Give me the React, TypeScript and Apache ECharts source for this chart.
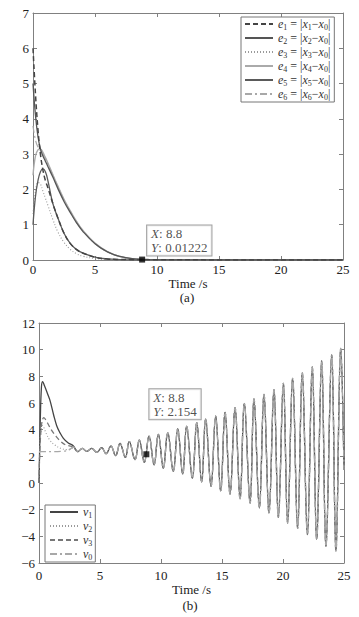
import React, { useEffect, useRef } from "react";
import * as echarts from "echarts";

// ---------- chart (a): errors e1..e6 ----------
const T_A = [0, 0.2, 0.4, 0.6, 0.8, 1, 1.2, 1.6, 2, 2.5, 3, 3.5, 4, 5, 6, 7, 8, 10, 15, 20, 25];
const E1 = [6, 4.7, 3.7, 3.0, 2.55, 2.25, 2.05, 1.6, 1.2, 0.76, 0.47, 0.3, 0.2, 0.08, 0.03, 0.015, 0.01, 0.006, 0.003, 0.001, 0];
const E2 = [5, 4.1, 3.5, 3.15, 2.95, 2.8, 2.65, 2.35, 2.03, 1.66, 1.35, 1.06, 0.82, 0.46, 0.23, 0.1, 0.04, 0.01, 0, 0, 0];
const E3 = [1.3, 1.95, 2.2, 2.15, 1.95, 1.75, 1.55, 1.15, 0.8, 0.5, 0.3, 0.18, 0.11, 0.04, 0.015, 0.005, 0, 0, 0, 0, 0];
const E4 = [2.4, 2.95, 3.12, 3.15, 3.05, 2.9, 2.75, 2.42, 2.1, 1.72, 1.4, 1.1, 0.85, 0.48, 0.24, 0.1, 0.04, 0.01, 0, 0, 0];
const E5 = [1.0, 1.8, 2.25, 2.5, 2.58, 2.5, 2.25, 1.6, 1.2, 0.76, 0.47, 0.3, 0.2, 0.08, 0.03, 0.012, 0.005, 0, 0, 0, 0];
const E6 = [3.8, 3.4, 3.2, 3.1, 3.0, 2.88, 2.72, 2.4, 2.08, 1.7, 1.38, 1.08, 0.84, 0.47, 0.23, 0.1, 0.04, 0.012, 0.003, 0.001, 0];
const TIP_A = [8.8, 0.01222];

// ---------- chart (b): v1, v2, v3, v0 ----------
const V1_T = [0, 0.1, 0.2, 0.3, 0.45, 0.7, 0.9, 1.2, 1.45, 1.7, 2.0, 2.4, 2.8];
const V1_V = [0, 4.5, 7.2, 7.6, 7.3, 6.7, 6.2, 5.1, 4.3, 3.8, 3.35, 3.0, 2.8];
const V2_T = [0, 0.1, 0.3, 0.6, 0.9, 1.3, 1.8, 2.3, 2.8];
const V2_V = [0, 3.3, 4.3, 3.7, 3.2, 2.85, 2.6, 2.5, 2.6];
const V3_T = [0, 0.15, 0.4, 0.7, 1.0, 1.4, 1.8, 2.2, 2.8];
const V3_V = [0, 3.8, 4.9, 4.5, 4.0, 3.5, 3.1, 2.85, 2.7];
const V0_T = [0, 1, 2, 2.5, 2.8];
const V0_V = [2.35, 2.35, 2.38, 2.5, 2.7];
const OSC_T = [3.18, 3.55, 3.91, 4.32, 4.73, 5.14, 5.49, 5.9, 6.28, 6.64, 7.08, 7.4, 7.87, 8.22, 8.63, 9.02, 9.43, 9.78, 10.19, 10.55, 11.01, 11.37, 11.78, 12.1, 12.57, 12.93, 13.33, 13.66, 14.1, 14.48, 14.89, 15.25, 15.66, 16.07, 16.48, 16.83, 17.3, 17.62, 18.06, 18.44, 18.85, 19.26, 19.62, 20.03, 20.38, 20.79, 21.2, 21.58, 22.0, 22.4, 22.76, 23.17, 23.52, 23.99, 24.34, 24.73, 25];
const OSC_V = [2.35, 2.6, 2.37, 2.6, 2.3, 2.65, 2.2, 2.77, 2.05, 2.97, 1.92, 3.1, 1.75, 3.22, 1.55, 3.52, 1.37, 3.65, 1.12, 3.77, 0.87, 4.05, 0.67, 4.27, 0.37, 4.52, 0.07, 4.8, -0.25, 5.02, -0.58, 5.3, -0.83, 5.65, -1.18, 5.97, -1.5, 6.3, -1.87, 6.65, -2.25, 7.0, -2.58, 7.47, -3.0, 7.85, -3.4, 8.27, -3.87, 8.7, -4.25, 9.15, -4.75, 9.6, -5.1, 10.1, 1.0];
const TIP_B = [8.8, 2.154];

const SERIF = "Liberation Serif";

const pairs = (ts: number[], vs: number[]) => ts.map((t, i) => [t, vs[i]]);

const LEG_A: Record<string, string> = {
  e1: "{i|e}{s|1}{t| = |}{i|x}{s|1}{t|\u2212}{i|x}{s|0}{t||}",
  e2: "{i|e}{s|2}{t| = |}{i|x}{s|2}{t|\u2212}{i|x}{s|0}{t||}",
  e3: "{i|e}{s|3}{t| = |}{i|x}{s|3}{t|\u2212}{i|x}{s|0}{t||}",
  e4: "{i|e}{s|4}{t| = |}{i|x}{s|4}{t|\u2212}{i|x}{s|0}{t||}",
  e5: "{i|e}{s|5}{t| = |}{i|x}{s|5}{t|\u2212}{i|x}{s|0}{t||}",
  e6: "{i|e}{s|6}{t| = |}{i|x}{s|6}{t|\u2212}{i|x}{s|0}{t||}",
};
const LEG_B: Record<string, string> = {
  v1: "{i|v}{s|1}",
  v2: "{i|v}{s|2}",
  v3: "{i|v}{s|3}",
  v0: "{i|v}{s|0}",
};

const richLegend = {
  i: { fontFamily: SERIF, fontStyle: "italic", fontSize: 12, color: "#333" },
  t: { fontFamily: SERIF, fontSize: 12, color: "#333" },
  s: { fontFamily: SERIF, fontSize: 8, color: "#333", padding: [6, 0, 0, 0] },
};

export default function App() {
  const ref = useRef<HTMLDivElement>(null);
  useEffect(() => {
    if (!ref.current) return;
    const chart = echarts.init(ref.current, undefined, { renderer: "svg" });
    const axisColor = "#808080";
    const labelStyle = { fontFamily: SERIF, fontSize: 13, color: "#222" };
    const minus = (v: number) => (v < 0 ? "\u2212" + Math.abs(v) : String(v));

    const xBase = (grid: number, top: boolean, margin: number, nameGap: number) => ({
      type: "value",
      gridIndex: grid,
      position: top ? "top" : "bottom",
      min: 0,
      max: 25,
      interval: 5,
      name: top ? "" : "Time /s",
      nameLocation: "middle",
      nameGap,
      nameTextStyle: labelStyle,
      axisLine: { show: true, onZero: false, lineStyle: { color: axisColor, width: 1 } },
      axisTick: { show: true, inside: true, length: 4, lineStyle: { color: axisColor } },
      axisLabel: { show: !top, margin, ...labelStyle },
      splitLine: { show: false },
    });
    const yBase = (grid: number, right: boolean, min: number, max: number, interval: number) => ({
      type: "value",
      gridIndex: grid,
      position: right ? "right" : "left",
      min,
      max,
      interval,
      axisLine: { show: true, onZero: false, lineStyle: { color: axisColor, width: 1 } },
      axisTick: { show: true, inside: true, length: 4, lineStyle: { color: axisColor } },
      axisLabel: { show: !right, margin: 4, formatter: minus, ...labelStyle },
      splitLine: { show: false },
    });

    const line = (name: string, x: number, data: number[][], color: string, type: any, width = 1.3) => ({
      name,
      type: "line",
      xAxisIndex: x,
      yAxisIndex: x,
      data,
      symbol: "none",
      smooth: 0.4,
      lineStyle: { color, type, width },
      itemStyle: { color },
      z: 3,
    });

    const tip = (x: number, v: number[], pos: number[]) => ({
      type: "scatter",
      xAxisIndex: x,
      yAxisIndex: x,
      data: [v],
      symbol: "rect",
      symbolSize: 6,
      itemStyle: { color: "#000" },
      z: 10,
      label: {
        show: true,
        position: pos,
        formatter: (p: any) => `{i|X}{t|: ${p.value[0]}}\n{i|Y}{t|: ${p.value[1]}}`,
        backgroundColor: "#fff",
        borderColor: "#888",
        borderWidth: 1,
        padding: [1, 4, 1, 4],
        lineHeight: 14,
        fontFamily: SERIF,
        fontSize: 13,
        color: "#222",
        rich: {
          i: { fontFamily: SERIF, fontStyle: "italic", fontSize: 13, color: "#222", lineHeight: 14 },
          t: { fontFamily: SERIF, fontSize: 13, color: "#222", lineHeight: 14 },
        },
      },
    });

    const oscB = pairs(OSC_T, OSC_V);

    const legendBase = {
      orient: "vertical",
      itemWidth: 28,
      itemGap: 1,
      borderColor: "#777",
      borderWidth: 1,
      backgroundColor: "#fff",
      itemStyle: { opacity: 0 },
      textStyle: { fontFamily: SERIF, fontSize: 12, color: "#333", rich: richLegend },
      selectedMode: false,
    };

    chart.setOption({
      animation: false,
      backgroundColor: "#fff",
      textStyle: { fontFamily: SERIF },
      grid: [
        { left: 33, top: 13, width: 310, height: 247 },
        { left: 39, top: 323, width: 305, height: 240 },
      ],
      xAxis: [xBase(0, false, 3, 13), xBase(0, true, 3, 13), xBase(1, false, 6, 17), xBase(1, true, 6, 17)],
      yAxis: [yBase(0, false, 0, 7, 1), yBase(0, true, 0, 7, 1), yBase(1, false, -6, 12, 2), yBase(1, true, -6, 12, 2)],
      legend: [
        {
          ...legendBase,
          data: ["e1", "e2", "e3", "e4", "e5", "e6"],
          left: 241,
          top: 17,
          itemHeight: 13,
          padding: [1, 4, 1, 3],
          formatter: (n: string) => LEG_A[n],
        },
        {
          ...legendBase,
          data: ["v1", "v2", "v3", "v0"],
          left: 45,
          top: 505,
          itemHeight: 12,
          padding: [1, 3, 1, 4],
          formatter: (n: string) => LEG_B[n],
        },
      ],
      graphic: [
        { type: "text", x: 187, y: 297, style: { text: "(a)", align: "center", verticalAlign: "middle", fontFamily: SERIF, fontSize: 13, fill: "#222" } },
        { type: "text", x: 190, y: 605, style: { text: "(b)", align: "center", verticalAlign: "middle", fontFamily: SERIF, fontSize: 13, fill: "#222" } },
      ],
      series: [
        line("e4", 0, pairs(T_A, E4), "#aaaaaa", "solid", 1.4),
        line("e6", 0, pairs(T_A, E6), "#a8a8a8", [7, 3, 2, 3], 1.2),
        line("e3", 0, pairs(T_A, E3), "#9a9a9a", [1, 2], 1.1),
        line("e2", 0, pairs(T_A, E2), "#555555", "solid", 1.3),
        line("e5", 0, pairs(T_A, E5), "#5a5a5a", "solid", 1.3),
        line("e1", 0, pairs(T_A, E1), "#444444", [5, 3], 1.5),
        tip(0, TIP_A, [8, -31]),
        line("v1", 2, [...pairs(V1_T, V1_V), ...oscB], "#444444", "solid", 1.3),
        line("v2", 2, [...pairs(V2_T, V2_V), ...oscB], "#9a9a9a", [1, 2], 1.1),
        line("v3", 2, [...pairs(V3_T, V3_V), ...oscB], "#777777", [5, 3], 1.3),
        line("v0", 2, [...pairs(V0_T, V0_V), ...oscB], "#a8a8a8", [7, 3, 2, 3], 1.3),
        tip(2, TIP_B, [6, -62]),
      ],
    });
    return () => chart.dispose();
  }, []);
  return <div ref={ref} style={{ position: "fixed", left: 0, top: 0, width: 359, height: 617 }} />;
}
